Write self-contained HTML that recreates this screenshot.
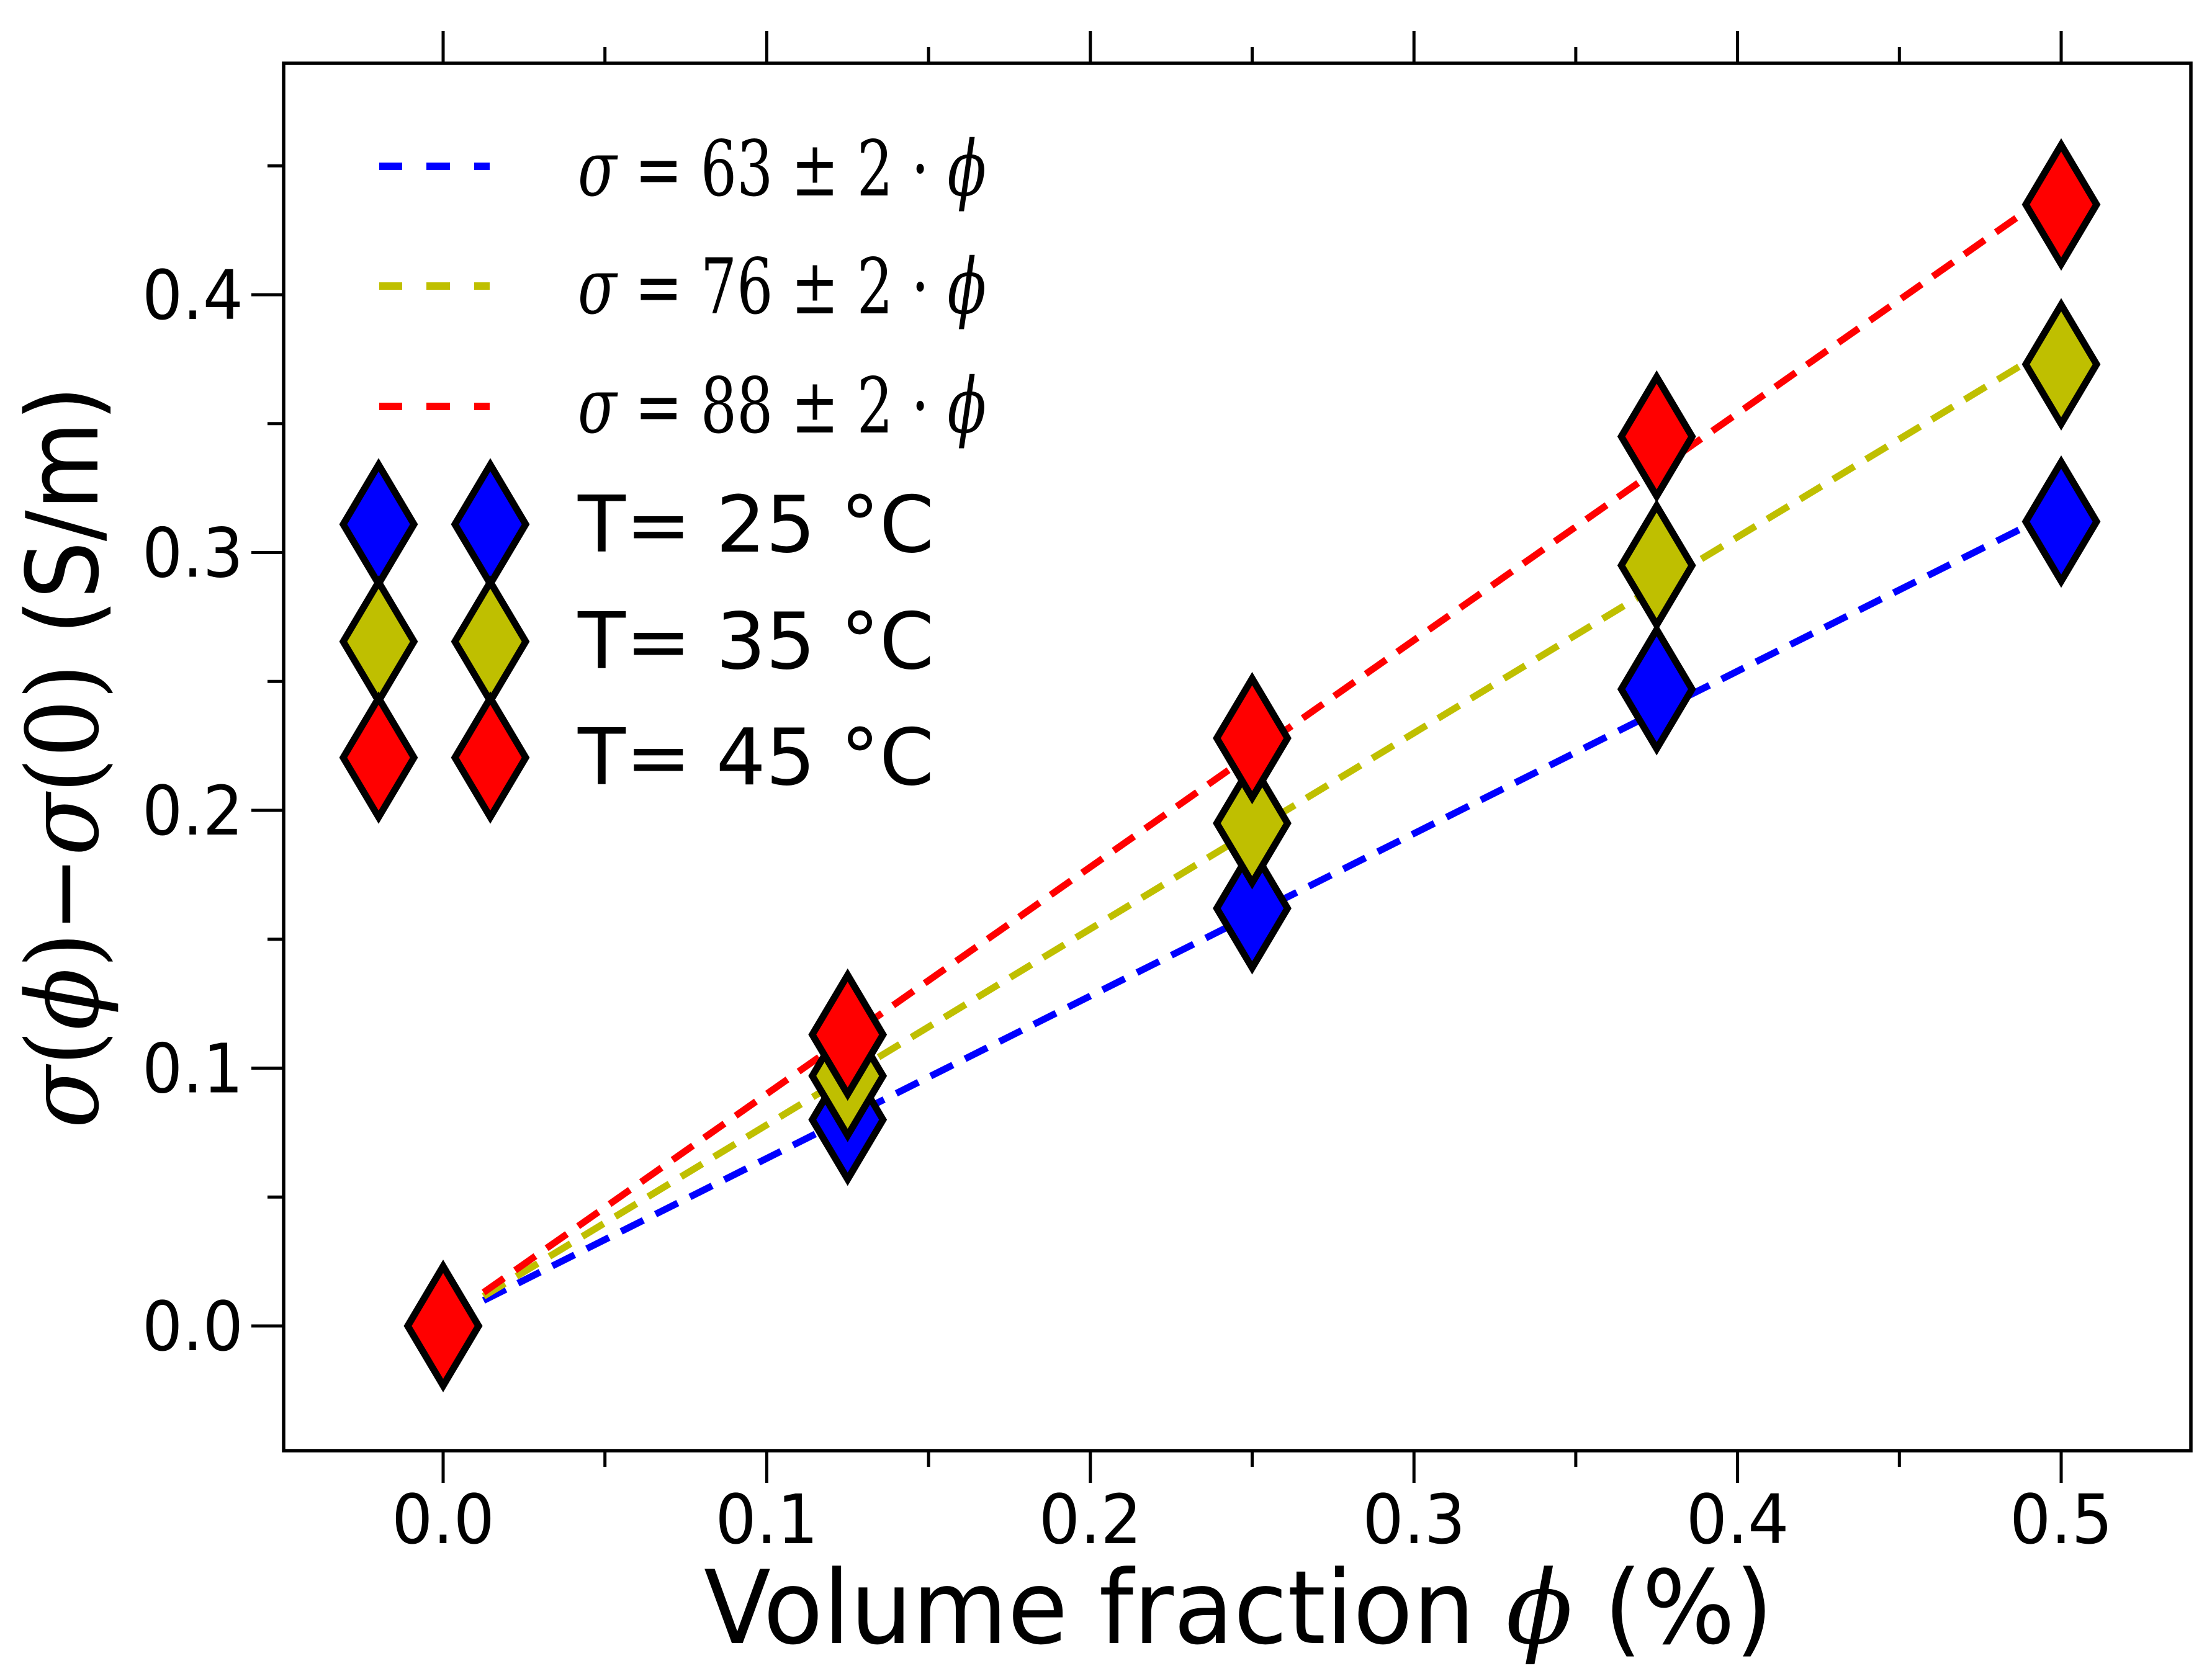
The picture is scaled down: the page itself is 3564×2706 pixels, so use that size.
<!DOCTYPE html>
<html><head><meta charset="utf-8"><style>
html,body{margin:0;padding:0;background:#fff;}
svg{display:block;}
text{font-family:"DejaVu Sans","Liberation Sans",sans-serif;fill:#000;}
.m{font-family:"DejaVu Serif","Liberation Serif",serif;}
</style></head><body>
<svg id="chart" width="3564" height="2706" viewBox="0 0 3564 2706" xmlns="http://www.w3.org/2000/svg">
<g id="grid-layer"></g>
<g id="lines-layer"></g>
<g id="markers-layer"></g>
<rect x="457" y="102" width="3073" height="2236" fill="none" stroke="#000" stroke-width="5.5"/>
<g id="axes-layer"></g>
<g id="legend">
  <g id="legend-lines"></g>
  <text class="m" x="931" y="315" font-size="124" textLength="658" lengthAdjust="spacingAndGlyphs"><tspan font-style="italic">σ</tspan> = 63 ± 2 · <tspan font-style="italic">ϕ</tspan></text>
  <text class="m" x="931" y="505" font-size="124" textLength="658" lengthAdjust="spacingAndGlyphs"><tspan font-style="italic">σ</tspan> = 76 ± 2 · <tspan font-style="italic">ϕ</tspan></text>
  <text class="m" x="931" y="697" font-size="124" textLength="658" lengthAdjust="spacingAndGlyphs"><tspan font-style="italic">σ</tspan> = 88 ± 2 · <tspan font-style="italic">ϕ</tspan></text>
  <g id="legend-markers"></g>
  <text x="931" y="889" font-size="126">T= 25 °C</text>
  <text x="931" y="1077" font-size="126">T= 35 °C</text>
  <text x="931" y="1264" font-size="126">T= 45 °C</text>
</g>
<text x="1134" y="2648" font-size="164" textLength="1723" lengthAdjust="spacingAndGlyphs">Volume fraction <tspan class="m" font-style="italic">ϕ</tspan> (%)</text>
<text transform="translate(157,1220) rotate(-90)" text-anchor="middle" font-size="160" textLength="1197" lengthAdjust="spacingAndGlyphs"><tspan class="m" font-style="italic">σ</tspan><tspan class="m">(</tspan><tspan class="m" font-style="italic">ϕ</tspan><tspan class="m">)−</tspan><tspan class="m" font-style="italic">σ</tspan><tspan class="m">(0)</tspan> (S/m)</text>
</svg>
<script>
const phi = [0, 0.125, 0.25, 0.375, 0.5];
const sig25 = [0, 0.080, 0.162, 0.247, 0.312];
const sig35 = [0, 0.097, 0.195, 0.295, 0.373];
const sig45 = [0, 0.113, 0.228, 0.345, 0.435];
const fitSlopes = [0.63, 0.76, 0.88];
const fitIntercept = 0.002;
const fitRange = [0.0125, 0.4875];
const xTicks = ["0.0","0.1","0.2","0.3","0.4","0.5"];
const yTicks = ["0.0","0.1","0.2","0.3","0.4"];

const NS = "http://www.w3.org/2000/svg";
const X0 = 714, XS = 5214, Y0 = 2137, YS = 4155;
function sx(v){ return X0 + v*XS; }
function sy(v){ return Y0 - v*YS; }
function mk(tag, attrs, parent){
  const e = document.createElementNS(NS, tag);
  for (const k in attrs) e.setAttribute(k, attrs[k]);
  parent.appendChild(e); return e;
}
const colors = ["#0000ff", "#bfbf00", "#ff0000"];
const series = [sig25, sig35, sig45];
const names = ["25", "35", "45"];

const axes = document.getElementById("axes-layer");
for (let i = 0; i <= 11; i++) {
  const v = i*0.05; if (v > 0.54) break;
  const major = i % 2 === 0;
  const L = major ? 52 : 26;
  const x = sx(v);
  const b = mk("line", {x1:x, x2:x, y1:2338, y2:2338+L, stroke:"#000", "stroke-width":5}, axes);
  
  
  const t = mk("line", {x1:x, x2:x, y1:102, y2:102-L, stroke:"#000", "stroke-width":5}, axes);
  
  
}
xTicks.forEach((lab) => {
  const tx = mk("text", {x:sx(parseFloat(lab)), y:2487, "font-size":110, "text-anchor":"middle", textLength:166, lengthAdjust:"spacingAndGlyphs"}, axes);
  tx.textContent = lab;
  
  
});
for (let i = 0; i <= 9; i++) {
  const v = i*0.05;
  const major = i % 2 === 0;
  const L = major ? 52 : 26;
  const y = sy(v);
  const l = mk("line", {x1:457, x2:457-L, y1:y, y2:y, stroke:"#000", "stroke-width":5}, axes);
  
  
}
yTicks.forEach((lab) => {
  const ty = mk("text", {x:392, y:sy(parseFloat(lab))+39, "font-size":110, "text-anchor":"end", textLength:163, lengthAdjust:"spacingAndGlyphs"}, axes);
  ty.textContent = lab;
  
  
});

const linesL = document.getElementById("lines-layer");
fitSlopes.forEach((s, i) => {
  const ln = mk("line", {x1:sx(fitRange[0]), y1:sy(fitIntercept + s*fitRange[0]), x2:sx(fitRange[1]), y2:sy(fitIntercept + s*fitRange[1]), stroke:colors[i], "stroke-width":11, "stroke-dasharray":"40 22"}, linesL);
  
  
});

function diamond(cx, cy, fill, parent){
  return mk("polygon", {points:`${cx},${cy-96} ${cx+57},${cy} ${cx},${cy+96} ${cx-57},${cy}`, fill:fill, stroke:"#000", "stroke-width":11, "stroke-linejoin":"miter"}, parent);
}
const mLayer = document.getElementById("markers-layer");
series.forEach((arr, si) => {
  arr.forEach((v, j) => {
    const d = diamond(sx(phi[j]), sy(v), colors[si], mLayer);
    
    
  });
});

const lgL = document.getElementById("legend-lines");
[268, 461, 655].forEach((y, i) => {
  [[611,648],[687,725],[764,789]].forEach(seg => {
    const r = mk("rect", {x:seg[0], y:y-6, width:seg[1]-seg[0], height:12, fill:colors[i]}, lgL);
    
    
  });
});
const lgM = document.getElementById("legend-markers");
[845, 1034, 1221].forEach((y, i) => {
  [610, 790].forEach(x => {
    const d = diamond(x, y, colors[i], lgM);
    
    
  });
});
</script>
</body></html>
